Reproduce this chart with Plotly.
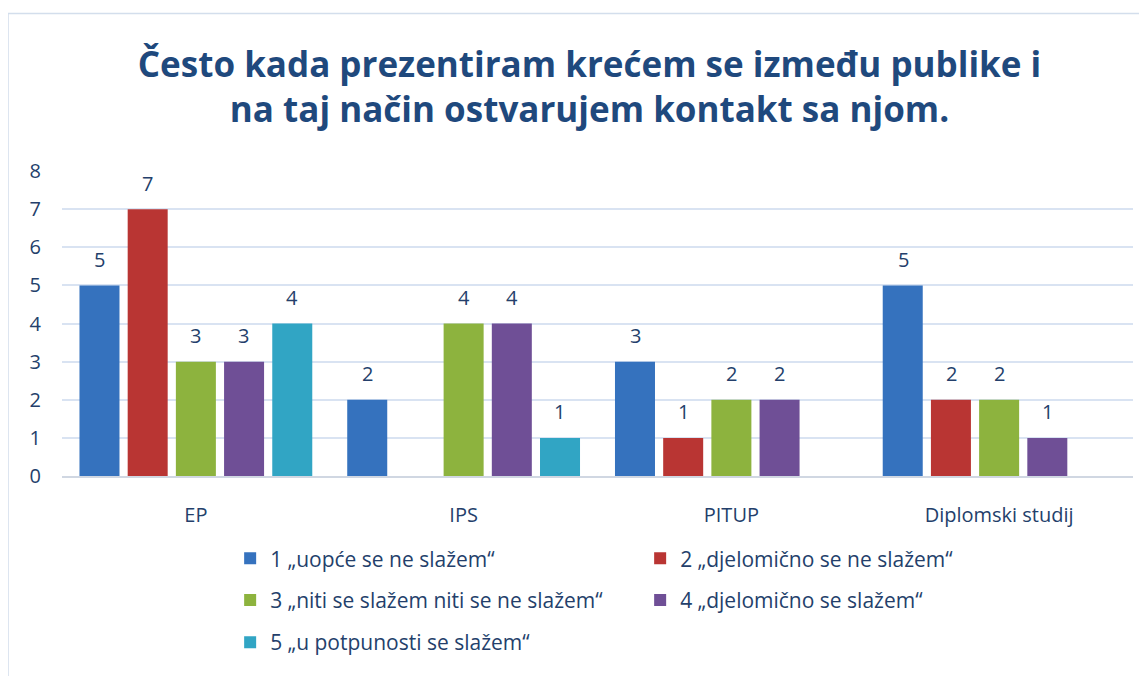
import plotly.graph_objects as go

categories = ["EP", "IPS", "PITUP", "Diplomski studij"]
series_names = [
    "1 „uopće se ne slažem“",
    "2 „djelomično se ne slažem“",
    "3 „niti se slažem niti se ne slažem“",
    "4 „djelomično se slažem“",
    "5 „u potpunosti se slažem“",
]
s1 = [5, 2, 3, 5]
s2 = [7, None, 1, 2]
s3 = [3, 4, 2, 2]
s4 = [3, 4, 2, 1]
s5 = [4, 1, None, None]
series_values = [s1, s2, s3, s4, s5]
colors = ["#3572be", "#b93533", "#8db33e", "#6f4f96", "#31a5c4"]
legend_rows = ["legend", "legend", "legend2", "legend2", "legend3"]
y_ticks = [0, 1, 2, 3, 4, 5, 6, 7, 8]
title_text = "Često kada prezentiram krećem se između publike i<br>na taj način ostvarujem kontakt sa njom."

FONT = "Open Sans, sans-serif"
TXT = "#243f6b"

fig = go.Figure()
for name, vals, col, lg in zip(series_names, series_values, colors, legend_rows):
    fig.add_trace(go.Bar(x=categories, y=vals, name=name, legend=lg,
                         marker=dict(color=col, line=dict(width=0))))

# data labels
n = len(series_values)
step = 48
for i, vals in enumerate(series_values):
    for cat, v in zip(categories, vals):
        if v is None:
            continue
        fig.add_annotation(x=cat, y=v, text=str(v), showarrow=False, xshift=(i - (n - 1) / 2) * step,
                           yshift=26, font=dict(size=20, color=TXT, family=FONT))

# chart border
fig.add_shape(type="rect", xref="paper", yref="paper", x0=-0.0504, x1=1.2, y0=-0.8, y1=1.5165,
              line=dict(color="#d3deec", width=1.5), fillcolor="rgba(0,0,0,0)", layer="below")

legend_common = dict(orientation="h", x=0.157, xanchor="left", yanchor="middle",
                     entrywidth=365, entrywidthmode="pixels", font=dict(size=21, color=TXT, family=FONT),
                     itemwidth=30, traceorder="normal", bgcolor="rgba(0,0,0,0)")

fig.update_layout(
    width=1147, height=676,
    margin=dict(l=54, r=22, t=163, b=208, autoexpand=False),
    paper_bgcolor="white", plot_bgcolor="white",
    barmode="group", bargap=0.1, bargroupgap=0.17,
    title=dict(text=title_text, x=0.507, xanchor="center", y=0.8985, yanchor="middle",
               font=dict(size=35, color="#1f497d", family=FONT, weight="bold")),
    font=dict(family=FONT, color=TXT, size=20),
    xaxis=dict(showgrid=False, ticks="", ticklabelstandoff=20, tickfont=dict(size=20, color=TXT),
               showline=True, linecolor="#d0d7e2", linewidth=1.5, zeroline=False),
    yaxis=dict(range=[0, 8], tickvals=y_ticks, showgrid=True, gridcolor="#d9e3f2", gridwidth=1.5,
               zeroline=False, ticks="", ticklabelstandoff=20, tickfont=dict(size=20, color=TXT)),
    legend=dict(y=-0.271, **legend_common),
    legend2=dict(y=-0.408, **legend_common),
    legend3=dict(y=-0.546, **legend_common),
    showlegend=True,
)

fig.write_html("out.html")
